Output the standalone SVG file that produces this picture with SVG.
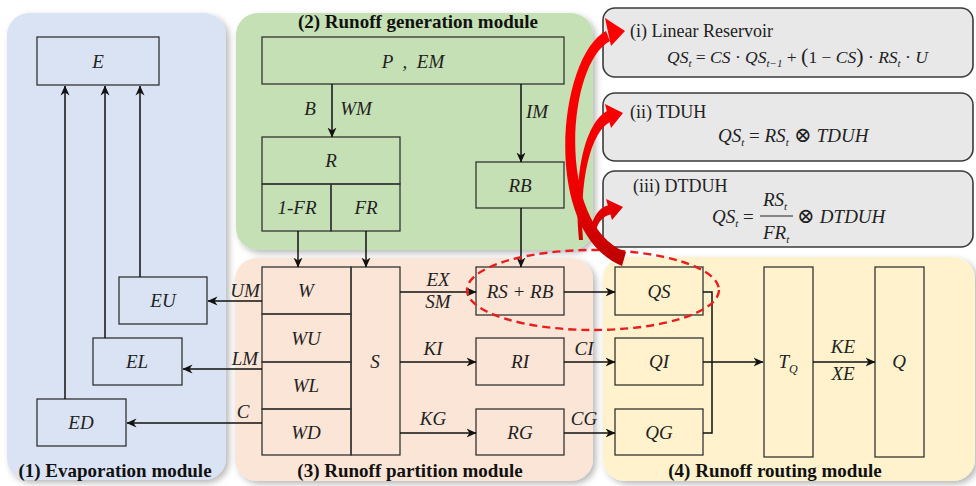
<svg xmlns="http://www.w3.org/2000/svg" width="976" height="486" viewBox="0 0 976 486">
  <defs>
    <filter id="shadow" x="-5%" y="-5%" width="110%" height="110%">
      <feDropShadow dx="3" dy="3" stdDeviation="3" flood-color="#000" flood-opacity="0.28"/>
    </filter>
    <marker id="arr" viewBox="0 0 10 10" refX="9.5" refY="5" markerWidth="10" markerHeight="10" markerUnits="userSpaceOnUse" orient="auto">
      <path d="M0,0.5 L10,5 L0,9.5 L3,5 Z" fill="#111"/>
    </marker>
    <linearGradient id="redGrad" x1="0" y1="30" x2="0" y2="268" gradientUnits="userSpaceOnUse">
      <stop offset="0" stop-color="#ff0000"/>
      <stop offset="0.7" stop-color="#ee0000"/>
      <stop offset="1" stop-color="#b80000"/>
    </linearGradient>
    <style>
      text { font-family: 'Liberation Serif', 'DejaVu Serif', serif; }
      .box { fill: none; stroke: #333; stroke-width: 1.3; }
      .lbl { font-style: italic; font-size: 19px; fill: #222; text-anchor: middle; }
      .title { font-weight: bold; font-size: 19px; fill: #111; text-anchor: middle; }
      .edge { fill: none; stroke: #111; stroke-width: 1.5; }
      .info { fill: #e8e8e8; stroke: #3a3a3a; stroke-width: 1.6; }
      .cap { font-size: 18px; fill: #222; }
      .fx { font-size: 19px; fill: #222; }
      .fx-s { font-size: 17.5px; fill: #222; }
      .it { font-style: italic; }
      .sub { font-style: italic; font-size: 11px; }
    </style>
  </defs>

  <!-- module panels -->
  <g id="panels" filter="url(#shadow)">
    <rect x="7" y="13" width="219" height="467" rx="22" fill="#dae3f3"/>
    <rect x="236" y="13" width="357" height="237" rx="22" fill="#c5e0b4"/>
    <rect x="235" y="258" width="358" height="223" rx="22" fill="#fbe5d6"/>
    <rect x="603" y="257" width="372" height="224" rx="22" fill="#fff2cc"/>
  </g>
  <text class="title" x="115" y="477">(1) Evaporation module</text>
  <text class="title" x="418" y="28">(2) Runoff generation module</text>
  <text class="title" x="410" y="477">(3) Runoff partition module</text>
  <text class="title" x="775" y="477">(4) Runoff routing module</text>

  <!-- routing scheme boxes -->
  <g id="scheme-i">
    <rect class="info" x="603" y="8" width="370" height="69" rx="12"/>
    <text class="cap" x="630" y="37">(i) Linear Reservoir</text>
    <text class="fx-s" x="667" y="63"><tspan class="it">QS</tspan><tspan class="sub" dy="4">t</tspan><tspan dy="-4"> = </tspan><tspan class="it">CS</tspan><tspan> · </tspan><tspan class="it">QS</tspan><tspan class="sub" dy="4">t−1</tspan><tspan dy="-4"> + </tspan><tspan font-size="22">(</tspan><tspan>1 − </tspan><tspan class="it">CS</tspan><tspan font-size="22">)</tspan><tspan> · </tspan><tspan class="it">RS</tspan><tspan class="sub" dy="4">t</tspan><tspan dy="-4"> · </tspan><tspan class="it">U</tspan></text>
  </g>
  <g id="scheme-ii">
    <rect class="info" x="603" y="93" width="370" height="68" rx="12"/>
    <text class="cap" x="630" y="118">(ii) TDUH</text>
    <text class="fx" x="718" y="142"><tspan class="it">QS</tspan><tspan class="sub" dy="4">t</tspan><tspan dy="-4"> = </tspan><tspan class="it">RS</tspan><tspan class="sub" dy="4">t</tspan><tspan dy="-4" font-size="21"> ⊗ </tspan><tspan class="it">TDUH</tspan></text>
  </g>
  <g id="scheme-iii">
    <rect class="info" x="603" y="171" width="370" height="76" rx="12"/>
    <text class="cap" x="633" y="192">(iii) DTDUH</text>
    <text class="fx" x="712" y="223"><tspan class="it">QS</tspan><tspan class="sub" dy="4">t</tspan><tspan dy="-4"> =</tspan></text>
    <text class="fx" x="763" y="206"><tspan class="it">RS</tspan><tspan class="sub" dy="4">t</tspan></text>
    <line x1="760" y1="216" x2="793" y2="216" stroke="#222" stroke-width="1.2"/>
    <text class="fx" x="763" y="239"><tspan class="it">FR</tspan><tspan class="sub" dy="4">t</tspan></text>
    <text class="fx" x="797" y="223"><tspan font-size="21">⊗ </tspan><tspan class="it">DTDUH</tspan></text>
  </g>

  <!-- evaporation module -->
  <g id="E"><rect class="box" x="37" y="37" width="122" height="48"/><text class="lbl" x="98" y="68">E</text></g>
  <g id="EU"><rect class="box" x="119" y="277" width="88" height="47"/><text class="lbl" x="163" y="307">EU</text></g>
  <g id="EL"><rect class="box" x="93" y="338" width="89" height="47"/><text class="lbl" x="137" y="368">EL</text></g>
  <g id="ED"><rect class="box" x="37" y="399" width="89" height="47"/><text class="lbl" x="81" y="429">ED</text></g>

  <!-- runoff generation module -->
  <g id="P-EM"><rect class="box" x="262" y="37" width="302" height="47"/><text class="lbl" x="413" y="68" xml:space="preserve">P  ,  EM</text></g>
  <g id="R">
    <rect class="box" x="262" y="137" width="138" height="47"/><text class="lbl" x="331" y="167">R</text>
  </g>
  <g id="one-minus-FR"><rect class="box" x="262" y="184" width="69" height="47"/><text class="lbl" x="297" y="214">1-FR</text></g>
  <g id="FR"><rect class="box" x="331" y="184" width="69" height="47"/><text class="lbl" x="366" y="214">FR</text></g>
  <g id="RB"><rect class="box" x="476" y="162" width="88" height="46"/><text class="lbl" x="520" y="192">RB</text></g>

  <!-- runoff partition module -->
  <g id="W"><rect class="box" x="262" y="267" width="89" height="47"/><text class="lbl" x="306" y="297">W</text></g>
  <g id="WU"><rect class="box" x="262" y="314" width="89" height="48"/><text class="lbl" x="306" y="345">WU</text></g>
  <g id="WL"><rect class="box" x="262" y="362" width="89" height="47"/><text class="lbl" x="306" y="392">WL</text></g>
  <g id="WD"><rect class="box" x="262" y="409" width="89" height="46"/><text class="lbl" x="306" y="439">WD</text></g>
  <g id="S"><rect class="box" x="351" y="267" width="49" height="188"/><text class="lbl" x="375" y="368">S</text></g>
  <g id="RS-RB"><rect class="box" x="476" y="267" width="88" height="48"/><text class="lbl" x="520" y="298">RS + RB</text></g>
  <g id="RI"><rect class="box" x="476" y="338" width="88" height="47"/><text class="lbl" x="520" y="368">RI</text></g>
  <g id="RG"><rect class="box" x="476" y="409" width="88" height="46"/><text class="lbl" x="520" y="439">RG</text></g>

  <!-- runoff routing module -->
  <g id="QS"><rect class="box" x="615" y="267" width="88" height="48"/><text class="lbl" x="659" y="298">QS</text></g>
  <g id="QI"><rect class="box" x="615" y="338" width="88" height="47"/><text class="lbl" x="659" y="368">QI</text></g>
  <g id="QG"><rect class="box" x="615" y="409" width="88" height="46"/><text class="lbl" x="659" y="439">QG</text></g>
  <g id="TQ"><rect class="box" x="764" y="267" width="49" height="190"/><text class="lbl" x="788" y="368">T<tspan font-size="12" dy="5">Q</tspan></text></g>
  <g id="Q"><rect class="box" x="875" y="267" width="49" height="190"/><text class="lbl" x="899" y="368">Q</text></g>

  <!-- connectors -->
  <g id="connectors">
    <path class="edge" d="M65,399 V86" marker-end="url(#arr)"/>
    <path class="edge" d="M105,338 V86" marker-end="url(#arr)"/>
    <path class="edge" d="M140,277 V86" marker-end="url(#arr)"/>
    <path class="edge" d="M262,301 H208" marker-end="url(#arr)"/>
    <path class="edge" d="M262,369 H183" marker-end="url(#arr)"/>
    <path class="edge" d="M262,423 H127" marker-end="url(#arr)"/>
    <path class="edge" d="M332,84 V137" marker-end="url(#arr)"/>
    <path class="edge" d="M521,84 V162" marker-end="url(#arr)"/>
    <path class="edge" d="M298,231 V267" marker-end="url(#arr)"/>
    <path class="edge" d="M366,231 V267" marker-end="url(#arr)"/>
    <path class="edge" d="M521,208 V267" marker-end="url(#arr)"/>
    <path class="edge" d="M400,292 H476" marker-end="url(#arr)"/>
    <path class="edge" d="M400,362 H476" marker-end="url(#arr)"/>
    <path class="edge" d="M400,433 H476" marker-end="url(#arr)"/>
    <path class="edge" d="M564,292 H615" marker-end="url(#arr)"/>
    <path class="edge" d="M564,362 H615" marker-end="url(#arr)"/>
    <path class="edge" d="M564,433 H615" marker-end="url(#arr)"/>
    <path class="edge" d="M703,292 H712 V433 H703"/>
    <path class="edge" d="M703,362 H763" marker-end="url(#arr)"/>
    <path class="edge" d="M813,362 H875" marker-end="url(#arr)"/>
    <!-- connector labels -->
    <text class="lbl" x="310" y="115">B</text>
    <text class="lbl" x="356" y="115">WM</text>
    <text class="lbl" x="537" y="118">IM</text>
    <text class="lbl" x="245" y="297">UM</text>
    <text class="lbl" x="245" y="365">LM</text>
    <text class="lbl" x="243" y="418">C</text>
    <text class="lbl" x="438" y="286">EX</text>
    <text class="lbl" x="438" y="308">SM</text>
    <text class="lbl" x="433" y="355">KI</text>
    <text class="lbl" x="433" y="425">KG</text>
    <text class="lbl" x="584" y="355">CI</text>
    <text class="lbl" x="584" y="425">CG</text>
    <text class="lbl" x="843" y="353">KE</text>
    <text class="lbl" x="843" y="380">XE</text>
  </g>

  <!-- highlight of the surface runoff path -->
  <ellipse cx="593" cy="290" rx="126" ry="40" fill="none" stroke="#e81e1e" stroke-width="2.4" stroke-dasharray="8 5"/>

  <!-- curved pointers to the routing schemes -->
  <g id="scheme-pointers" fill="url(#redGrad)">
    <path d="M606,31 C558,56 540,232 622,266 L626,252 C556,226 566,64 610,41 Z"/>
    <path d="M625,31 L605,18 L611,46 Z"/>
    <path d="M609,110 C583,122 573,180 579,240 L583,240 C579,182 590,130 612,121 Z"/>
    <path d="M623,113 L605,104 L611,128 Z"/>
    <path d="M609,205 C597,208 591,220 590,236 L595,236 C596,224 602,216 612,214 Z"/>
    <path d="M623,207 L606,199 L612,220 Z"/>
  </g>
</svg>
